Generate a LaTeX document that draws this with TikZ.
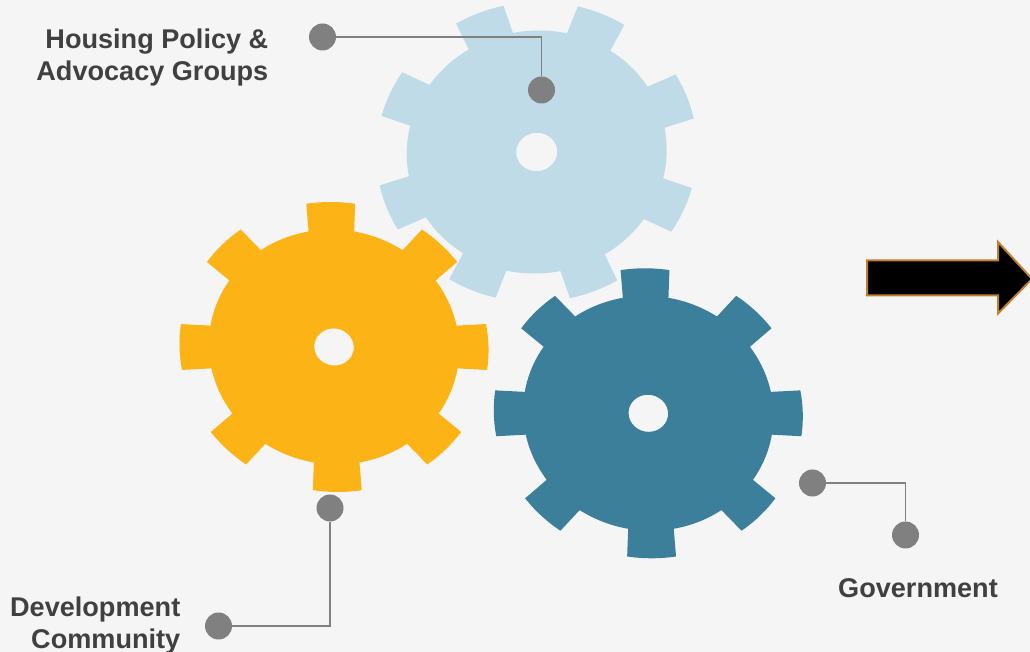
\documentclass[tikz,border=0pt]{standalone}
\usepackage{fontspec}
\setmainfont{Liberation Sans}
\usepackage{xcolor}
\usetikzlibrary{positioning}
\definecolor{bggray}{HTML}{F5F5F5}
\definecolor{gearlight}{HTML}{BEDBE7}
\definecolor{gearyellow}{HTML}{FCB316}
\definecolor{geardark}{HTML}{3B7F9B}
\definecolor{dotgray}{HTML}{808080}
\definecolor{arrowedge}{HTML}{C07F2F}
\tikzset{dot/.style={circle,fill=dotgray,inner sep=0pt,minimum size=27pt}}
\tikzset{leader/.style={draw=dotgray,line width=1.6pt}}
\tikzset{lbl/.style={font=\fontsize{27.1}{32}\selectfont\bfseries,text=black!75,align=right,inner sep=0pt}}
% center x, center y, x radius, y radius, first tooth angle, slant, colour
\newcommand{\gearshape}[7]{
    \fill[#7,even odd rule,x=#3pt,y=#4pt,shift={(#1pt,#2pt)},xslant=#6] (#5-10.5:0.81)
        \foreach \a in {0,45,...,315} {
            -- (#5+\a-9.1:1) arc[start angle=#5+\a-9.1,end angle=#5+\a+9.1,radius=1]
            -- (#5+\a+10.5:0.81) arc[start angle=#5+\a+10.5,end angle=#5+\a+34.5,radius=0.81]
        } -- cycle (0,0) circle[radius=0.128];
}
\begin{document}
\begin{tikzpicture}[x=1pt,y=1pt]
    \useasboundingbox (0,0) rectangle (1030,652);
    \fill[bggray] (0,0) rectangle (1030,652);
    \gearshape{536.7}{500}{160.5}{150}{22}{0.018}{gearlight}
    \gearshape{334}{305}{154.5}{145}{0}{-0.023}{gearyellow}
    \gearshape{648.3}{238.7}{154.5}{145}{0}{-0.023}{geardark}
    \filldraw[fill=black,draw=arrowedge,line width=2pt] (867,391.5) -- (998,391.5) -- (998,410) -- (1032,373) -- (998,338.5) -- (998,356.5) -- (867,356.5) -- cycle;
    \node[dot] (housingA) at (322.5,615) {};
    \node[dot] (housingB) at (541.5,562) {};
    \node[dot] (devA) at (330,144) {};
    \node[dot] (devB) at (218.5,26) {};
    \node[dot] (govA) at (812.5,169) {};
    \node[dot] (govB) at (905.5,117) {};
    \draw[leader] (housingA) -| (housingB);
    \draw[leader] (devA) |- (devB);
    \draw[leader] (govA) -| (govB);
    \node[lbl,anchor=east] (housing) at (268.5,594) {Housing Policy \&\\Advocacy Groups};
    \node[lbl,anchor=east] (dev) at (180.5,27) {Development\\Community};
    \node[lbl] (gov) at (918,64) {Government};
\end{tikzpicture}
\end{document}
